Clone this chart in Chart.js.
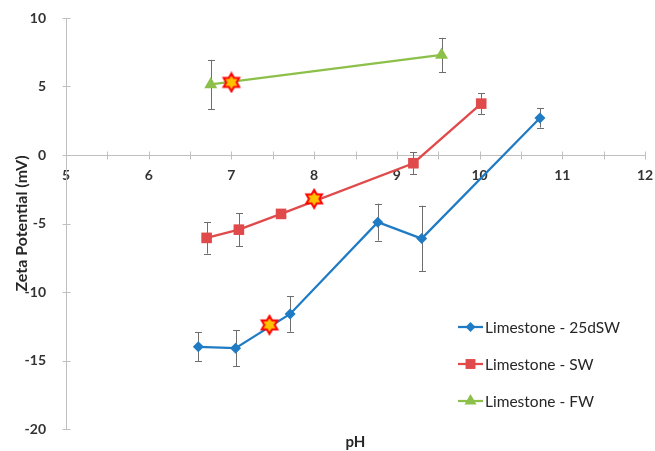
<!DOCTYPE html>
<html>
<head>
<meta charset="utf-8">
<script src="https://cdn.jsdelivr.net/npm/chart.js@4.4.1/dist/chart.umd.min.js"></script>
<style>
  body { margin: 0; background: #ffffff; }
  #zeta_chart { display: block; }
</style>
</head>
<body>
<canvas id="zeta_chart" width="655" height="451"></canvas>
<script>
// values
let seriesNames = ['Limestone - 25dSW', 'Limestone - SW', 'Limestone - FW'] ;
let seriesColors = ['#1f7bc3', '#e04a4a', '#8dc04a'] ;

let ph25dSW   = [6.60, 7.05, 7.71, 8.77, 9.30, 10.73] ;
let zeta25dSW = [-14.0, -14.1, -11.6, -4.9, -6.1, 2.7] ;
let err25dSW  = [1.05, 1.3, 1.3, 1.35, 2.4, 0.7] ;

let phSW   = [6.70, 7.09, 7.60, 9.20, 10.02] ;
let zetaSW = [-6.05, -5.45, -4.3, -0.6, 3.75] ;
let errSW  = [1.15, 1.2, 0.2, 0.8, 0.75] ;

let phFW   = [6.75, 9.54] ;
let zetaFW = [5.15, 7.3] ;
let errFW  = [1.8, 1.25] ;

let phStar   = [7.0, 8.0, 7.46] ;
let zetaStar = [5.3, -3.2, -12.4] ;

let xTicks = {min: 5, max: 12, step: 0.5} ;
let yTicks = {min: -20, max: 10, step: 5} ;

Chart.defaults.font.family = 'Lato' ;

function toPoints (xs, ys) {
    return xs.map((x, i) => {
        return {x: x, y: ys[i]} ;
    }) ;
}

// six pointed star used for the highlighted points
function makeStar () {
    let c = document.createElement('canvas') ;
    c.width = 22 ; c.height = 22 ;
    let g = c.getContext('2d') ;
    let ro = 9, ri = 5.2 ;
    g.beginPath() ;
    for (let k = 0; k < 12; k++) {
        let r = (k % 2 == 0) ? ro : ri ;
        let a = -Math.PI / 2 + k * Math.PI / 6 ;
        let px = 11 + r * Math.cos(a), py = 11 + r * Math.sin(a) ;
        if (k == 0) g.moveTo(px, py) ; else g.lineTo(px, py) ;
    }
    g.closePath() ;
    g.fillStyle = '#ffc000' ;
    g.fill() ;
    g.lineWidth = 2 ;
    g.strokeStyle = '#ff0000' ;
    g.stroke() ;
    return c ;
}

function drawMarker (ctx, style, x, y, r, color) {
    ctx.fillStyle = color ;
    ctx.beginPath() ;
    if (style == 'rectRot') {
        ctx.moveTo(x, y - r) ; ctx.lineTo(x + r, y) ; ctx.lineTo(x, y + r) ; ctx.lineTo(x - r, y) ;
    } else if (style == 'rect') {
        let s = r * Math.SQRT1_2 ;
        ctx.rect(x - s, y - s, 2 * s, 2 * s) ;
    } else {
        let h = r * Math.sin(Math.PI / 3) ;
        ctx.moveTo(x, y - r) ; ctx.lineTo(x + h, y + r / 2) ; ctx.lineTo(x - h, y + r / 2) ;
    }
    ctx.closePath() ;
    ctx.fill() ;
}

// vertical error bars under the markers
const errorBars = {
    id: 'errorBars',
    beforeDatasetsDraw (chart) {
        let ctx = chart.ctx ;
        let ys = chart.scales.y ;
        ctx.save() ;
        ctx.strokeStyle = '#6e6e6e' ;
        ctx.lineWidth = 1 ;
        chart.data.datasets.forEach((ds, i) => {
            if (!ds.errors) return ;
            let meta = chart.getDatasetMeta(i) ;
            meta.data.forEach((pt, j) => {
                let e = ds.errors[j] ;
                let yTop = ys.getPixelForValue(ds.data[j].y + e) ;
                let yBot = ys.getPixelForValue(ds.data[j].y - e) ;
                let x = Math.round(pt.x) + 0.5 ;
                ctx.beginPath() ;
                ctx.moveTo(x, yTop) ; ctx.lineTo(x, yBot) ;
                ctx.moveTo(x - 3.5, Math.round(yTop) + 0.5) ; ctx.lineTo(x + 3.5, Math.round(yTop) + 0.5) ;
                ctx.moveTo(x - 3.5, Math.round(yBot) + 0.5) ; ctx.lineTo(x + 3.5, Math.round(yBot) + 0.5) ;
                ctx.stroke() ;
            }) ;
        }) ;
        ctx.restore() ;
    }
} ;

// tick marks that cross the axis lines
const crossTicks = {
    id: 'crossTicks',
    beforeDatasetsDraw (chart) {
        let ctx = chart.ctx ;
        let xs = chart.scales.x, ys = chart.scales.y ;
        let y0 = Math.round(ys.getPixelForValue(0)) + 0.5 ;
        let x0 = Math.round(xs.left) + 0.5 ;
        ctx.save() ;
        ctx.strokeStyle = '#bfbfbf' ;
        ctx.lineWidth = 1 ;
        ctx.beginPath() ;
        for (let v = xTicks.min; v <= xTicks.max; v += xTicks.step) {
            let px = Math.round(xs.getPixelForValue(v)) + 0.5 ;
            ctx.moveTo(px, y0 - 4) ; ctx.lineTo(px, y0 + 4) ;
        }
        for (let v = yTicks.min; v <= yTicks.max; v += yTicks.step) {
            let py = Math.round(ys.getPixelForValue(v)) + 0.5 ;
            ctx.moveTo(x0 - 4, py) ; ctx.lineTo(x0 + 4, py) ;
        }
        ctx.stroke() ;
        ctx.restore() ;
    }
} ;

// legend with line + marker, bottom right inside the plot
const sideLegend = {
    id: 'sideLegend',
    afterDraw (chart) {
        let ctx = chart.ctx ;
        let rows = [327, 364, 401] ;
        ctx.save() ;
        ctx.font = '15.5px Lato' ;
        ctx.textBaseline = 'middle' ;
        ctx.textAlign = 'left' ;
        for (let i = 0; i < 3; i++) {
            let ds = chart.data.datasets[i] ;
            let y = rows[i] ;
            ctx.strokeStyle = ds.borderColor ;
            ctx.lineWidth = 2.25 ;
            ctx.beginPath() ;
            ctx.moveTo(458, y) ; ctx.lineTo(483, y) ;
            ctx.stroke() ;
            drawMarker(ctx, ds.pointStyle, 470.5, y, ds.pointRadius - 0.5, ds.borderColor) ;
            ctx.fillStyle = '#262626' ;
            ctx.fillText(seriesNames[i], 485, y + 1) ;
        }
        ctx.restore() ;
    }
} ;

let lineSets = [
    {x: ph25dSW, y: zeta25dSW, err: err25dSW, style: 'rectRot', r: 5.5},
    {x: phSW, y: zetaSW, err: errSW, style: 'rect', r: 7.5},
    {x: phFW, y: zetaFW, err: errFW, style: 'triangle', r: 7.5},
] ;

let datasets = lineSets.map((s, i) => {
    return {
        label: seriesNames[i],
        data: toPoints(s.x, s.y),
        errors: s.err,
        borderColor: seriesColors[i],
        backgroundColor: seriesColors[i],
        borderWidth: 2.25,
        pointStyle: s.style,
        pointRadius: s.r,
        pointHoverRadius: s.r,
        pointBorderWidth: 0,
        pointBackgroundColor: seriesColors[i],
        showLine: true,
        order: 1,
    } ;
}) ;

datasets.push({
    label: 'marked',
    data: toPoints(phStar, zetaStar),
    pointStyle: makeStar(),
    showLine: false,
    order: 0,
}) ;

let ctx_zeta = document.getElementById('zeta_chart').getContext('2d') ;
let zeta_chart = new Chart(ctx_zeta, {
    type: 'scatter',
    data: {datasets: datasets},
    plugins: [errorBars, crossTicks, sideLegend],
    options: {
        responsive: false,
        animation: false,
        devicePixelRatio: 1,
        layout: {autoPadding: false, padding: {top: 18, right: 10, bottom: 0, left: 0}},
        plugins: {
            legend: {display: false},
            tooltip: {enabled: false},
            title: {
                display: true,
                text: 'pH',
                position: 'bottom',
                fullSize: false,
                color: '#262626',
                font: {size: 15, weight: 'bold'},
                padding: {top: 4, bottom: 0},
            },
        },
        scales: {
            x: {
                type: 'linear',
                position: {y: 0},
                min: xTicks.min,
                max: xTicks.max,
                grid: {display: false},
                border: {display: true, color: '#bfbfbf', width: 1},
                ticks: {
                    stepSize: xTicks.step,
                    autoSkip: false,
                    maxRotation: 0,
                    padding: 4,
                    color: '#333333',
                    font: {size: 14, weight: 'bold'},
                    callback: function (value) {
                        return Number.isInteger(value) ? value : '' ;
                    }
                },
                afterFit: function (scale) {
                    scale.paddingLeft = 0 ;
                    scale.paddingRight = 8 ;
                }
            },
            y: {
                type: 'linear',
                position: 'left',
                min: yTicks.min,
                max: yTicks.max,
                grid: {display: false},
                border: {display: true, color: '#bfbfbf', width: 1},
                ticks: {
                    stepSize: yTicks.step,
                    padding: 12,
                    color: '#333333',
                    font: {size: 14, weight: 'bold'},
                },
                title: {
                    display: true,
                    text: 'Zeta Potential (mV)',
                    color: '#262626',
                    font: {size: 16, weight: 'bold'},
                    padding: {top: 12, bottom: 0},
                },
                afterFit: function (scale) {
                    scale.width = 66 ;
                    scale.paddingTop = 0 ;
                    scale.paddingBottom = 0 ;
                }
            }
        }
    }
}) ;
</script>
</body>
</html>
